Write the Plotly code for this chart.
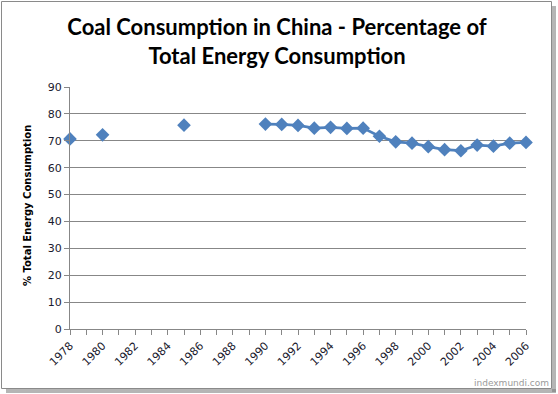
import plotly.graph_objects as go

years = list(range(1978, 2007))
coal_pct = [70.7, None, 72.2, None, None, None, None, 75.8, None, None, None, None,
            76.2, 76.1, 75.7, 74.7, 75.0, 74.6, 74.7, 71.7, 69.6, 69.1, 67.8, 66.7,
            66.3, 68.4, 68.0, 69.1, 69.4]
x_tick_labels = [str(y) for y in range(1978, 2007, 2)]
title_text = "Coal Consumption in China - Percentage of<br>Total Energy Consumption"
y_title = "% Total Energy Consumption"
watermark = "indexmundi.com"

W, H = 558, 394
L, R, T, B = 70, 32, 87, 65
pw, ph = W - L - R, H - T - B

def px(x):
    return (x - L) / pw

def py(y):
    return (H - B - y) / ph

fig = go.Figure()
fig.add_trace(go.Scatter(
    x=years, y=coal_pct, mode="lines+markers", connectgaps=False,
    line=dict(color="#4F81BD", width=2.75),
    marker=dict(symbol="diamond", size=10.5, color="#4F81BD"),
    cliponaxis=False, showlegend=False, hoverinfo="x+y"))

grid = "#878787"
fig.update_layout(
    width=W, height=H,
    margin=dict(l=L, r=R, t=T, b=B),
    paper_bgcolor="white", plot_bgcolor="white",
    title=dict(text=title_text, x=277 / W, xref="container", xanchor="center",
               y=1 - 35 / H, yanchor="middle",
               font=dict(family="Lato", size=22, color="black", weight="bold")),
    xaxis=dict(range=[1978, 2006], tickvals=list(range(1978, 2007, 2)),
               ticktext=x_tick_labels, tickangle=-45, showgrid=False,
               showline=True, linecolor=grid, linewidth=1,
               ticks="outside", ticklen=5, tickcolor=grid,
               minor=dict(dtick=1, tick0=1978, ticks="outside", ticklen=5,
                          tickcolor=grid, showgrid=False),
               tickfont=dict(family="DejaVu Sans", size=11, color="#1a1a2e"),
               zeroline=False, fixedrange=True),
    yaxis=dict(range=[0, 90], dtick=10, showgrid=True, gridcolor=grid, gridwidth=1,
               showline=True, linecolor=grid, linewidth=1,
               ticks="outside", ticklen=5, tickcolor=grid,
               tickfont=dict(family="DejaVu Sans", size=11, color="#1a1a2e"),
               zeroline=False, fixedrange=True),
    shapes=[
        # shadow
        dict(type="rect", xref="paper", yref="paper",
             x0=px(552), x1=px(556), y0=py(392), y1=py(6),
             fillcolor="rgba(120,120,120,0.55)", line=dict(width=0), layer="below"),
        dict(type="rect", xref="paper", yref="paper",
             x0=px(6), x1=px(556), y0=py(393), y1=py(389),
             fillcolor="rgba(120,120,120,0.55)", line=dict(width=0), layer="below"),
        # frame
        dict(type="rect", xref="paper", yref="paper",
             x0=px(1.5), x1=px(551.5), y0=py(388.5), y1=py(1.5),
             fillcolor="rgba(0,0,0,0)", line=dict(color="#8a8a8a", width=1),
             layer="below"),
    ],
    annotations=[
        dict(text=y_title, xref="paper", yref="paper", x=px(27), y=py(206),
             xanchor="center", yanchor="middle", textangle=-90, showarrow=False,
             font=dict(family="DejaVu Sans", size=10, color="black", weight="bold")),
        dict(text=watermark, xref="paper", yref="paper", x=px(551), y=py(383),
             xanchor="right", yanchor="middle", showarrow=False,
             font=dict(family="DejaVu Sans", size=9, color="#9a9a9a")),
    ],
)

fig.write_html("out.html", config={"displayModeBar": False},
               post_script="document.body.style.margin='0';document.body.style.overflow='hidden';")
